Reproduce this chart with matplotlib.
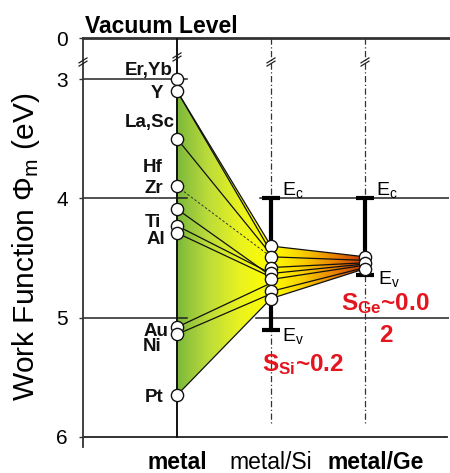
import numpy as np
import matplotlib
matplotlib.use("Agg")
import matplotlib.pyplot as plt
from matplotlib.colors import LinearSegmentedColormap
from matplotlib.patches import Polygon

plt.rcParams['font.family'] = ['Liberation Sans', 'DejaVu Sans']
plt.rcParams['mathtext.fontset'] = 'custom'
plt.rcParams['mathtext.rm'] = 'Liberation Sans'
plt.rcParams['mathtext.it'] = 'Liberation Sans:italic'
plt.rcParams['mathtext.bf'] = 'Liberation Sans:bold'

# ---------------- data ----------------
columns = ['metal', 'metal/Si', 'metal/Ge']
metal_names = ['Er,Yb', 'Y', 'La,Sc', 'Zr', 'Hf', 'Ti', 'Al', 'Au', 'Ni', 'Pt']
metal_wf = [3.00, 3.10, 3.50, 3.90, 4.09, 4.23, 4.29, 5.08, 5.14, 5.65]
si_pinned = [4.40, 4.49, 4.58, 4.63, 4.68, 4.78, 4.84]
ge_pinned = [4.49, 4.54, 4.59]
# metal -> Si connections
conn_metal = [3.10, 3.10, 3.50, 4.09, 4.23, 4.29, 5.08, 5.14, 5.65]
conn_si = [4.40, 4.45, 4.47, 4.65, 4.63, 4.66, 4.71, 4.80, 4.84]
dashed_metal, dashed_si = 3.90, 4.49
# Si -> Ge connections
conn_si_ge_from = [4.40, 4.49, 4.58, 4.63, 4.68, 4.78, 4.84]
conn_si_ge_to = [4.49, 4.52, 4.54, 4.55, 4.56, 4.58, 4.59]
si_ec, si_ev = 4.0, 5.10
ge_ec, ge_ev = 4.0, 4.64
ytick_vals = [0, 3, 4, 5, 6]
s_si_text = '0.2'
s_ge_text = '0.0'

# broken axis: 0 eV drawn just above 3 eV
Y0 = 2.656
def ymap(v):
    return Y0 if v == 0 else v

# pixel helpers for layout only
def px2x(px):
    return (px - 83) / 94.0
def px2y(py):
    return Y0 + (py - 38) / 119.3

fig = plt.figure(figsize=(4.5, 4.73), dpi=100)
ax = fig.add_axes([83 / 450, 1 - 447 / 473, (449 - 83) / 450, (447 - 38) / 473])
XMAX = (449 - 83) / 94.0
YMAX = px2y(447)

xm, xs, xg = 1, 2, 3

# gradient fills
cmap1 = LinearSegmentedColormap.from_list('g', ['#7cb83c', '#bcdc3a', '#eaf220', '#ffff00'])
cmap2 = LinearSegmentedColormap.from_list('o', ['#ffff00', '#f8d000', '#ea8400', '#c03408'])
grad = np.linspace(0, 1, 256).reshape(1, -1)

poly1 = Polygon([(xm, conn_metal[0]), (xs, si_pinned[0]), (xs, si_pinned[-1]), (xm, metal_wf[-1])],
                closed=True, facecolor='none', edgecolor='none')
ax.add_patch(poly1)
im1 = ax.imshow(grad, extent=(xm, xs, 6.1, 2.6), cmap=cmap1, aspect='auto', zorder=1)
im1.set_clip_path(poly1)

poly2 = Polygon([(xs, si_pinned[0]), (xg, ge_pinned[0]), (xg, ge_pinned[-1]), (xs, si_pinned[-1])],
                closed=True, facecolor='none', edgecolor='none')
ax.add_patch(poly2)
im2 = ax.imshow(grad, extent=(xs, xg, 6.1, 2.6), cmap=cmap2, aspect='auto', zorder=1)
im2.set_clip_path(poly2)

# horizontal reference lines
lc = '#222222'
ax.plot([0, XMAX], [Y0, Y0], color='#333333', lw=2.0, zorder=2, clip_on=False)
ax.plot([0, XMAX - 0.02], [6, 6], color=lc, lw=1.3, zorder=2, clip_on=False)
ax.plot([0, 1.11], [3, 3], color=lc, lw=1.1, zorder=2)
ax.plot([0, 1.11], [4, 4], color=lc, lw=1.1, zorder=2)
ax.plot([0, 1.11], [5, 5], color=lc, lw=1.1, zorder=2)
ax.plot([1.88, XMAX], [4, 4], color=lc, lw=1.1, zorder=2)
ax.plot([1.84, XMAX], [5, 5], color=lc, lw=1.1, zorder=2)

# vertical column lines
ax.plot([xm, xm], [Y0, 6], color='#111111', lw=1.4, zorder=2)
for xc in (xs, xg):
    ax.plot([xc, xc], [Y0, px2y(424)], color='#333333', lw=0.9,
            dashes=(5, 2, 1, 2), zorder=2)

# break marks
def brk(xc, yc):
    dx, dy = 4.5 / 94.0, 2.8 / 119.3
    for off in (-1.6 / 119.3, 1.6 / 119.3):
        ax.plot([xc - dx, xc + dx], [yc + dy + off, yc - dy + off], color='#222222',
                lw=0.9, zorder=6, clip_on=False, solid_capstyle='butt')
brk(0, px2y(62))
brk(xm, px2y(57))
brk(xs, px2y(62))
brk(xg, px2y(62))

# connecting lines
for a, b in zip(conn_metal, conn_si):
    ax.plot([xm, xs], [a, b], color='#111111', lw=0.9, zorder=3)
ax.plot([xm, xs], [dashed_metal, dashed_si], color='#333333', lw=0.7,
        dashes=(2.5, 2), zorder=3)
for a, b in zip(conn_si_ge_from, conn_si_ge_to):
    ax.plot([xs, xg], [a, b], color='#111111', lw=0.9, zorder=3)

# band bars
capw = 0.1
for xc, ec, ev in ((xs, si_ec, si_ev), (xg, ge_ec, ge_ev)):
    ax.plot([xc, xc], [ec, ev], color='black', lw=3.0, zorder=4, solid_capstyle='butt')
    ax.plot([xc - capw, xc + capw], [ec, ec], color='black', lw=3.0, zorder=4, solid_capstyle='butt')
    ax.plot([xc - capw, xc + capw], [ev, ev], color='black', lw=3.0, zorder=4, solid_capstyle='butt')

# circles
mk = dict(marker='o', ms=8.8, mfc='white', mec='#111111', mew=1.0, ls='none', zorder=5)
ax.plot([xm] * len(metal_wf), metal_wf, **mk)
ax.plot([xs] * len(si_pinned), si_pinned, **mk)
ax.plot([xg] * len(ge_pinned), ge_pinned, **mk)

# metal labels (right edge px, centre y px)
label_layout = [('Er,Yb', 173, 71), ('Y', 163, 93), ('La,Sc', 175, 122), ('Hf', 163, 167),
                ('Zr', 163, 188), ('Ti', 161, 222), ('Al', 165, 239), ('Au', 168, 331),
                ('Ni', 162, 347), ('Pt', 163, 397)]
for name, rx, cy in label_layout:
    ax.text(px2x(rx), px2y(cy), name, ha='right', va='center', fontsize=13.5,
            fontweight='bold', color='#111111', zorder=6)

# band edge labels
efs = 14
ax.text(px2x(282), px2y(195), r'$\mathregular{E_c}$', fontsize=efs, va='baseline', ha='left')
ax.text(px2x(376), px2y(195), r'$\mathregular{E_c}$', fontsize=efs, va='baseline', ha='left')
ax.text(px2x(282), px2y(341), r'$\mathregular{E_v}$', fontsize=efs, va='baseline', ha='left')
ax.text(px2x(378), px2y(284), r'$\mathregular{E_v}$', fontsize=efs, va='baseline', ha='left')

red = '#e3151e'
ax.text(px2x(262), px2y(371), r'$\mathregular{S_{Si}}$~' + s_si_text, fontsize=17.5,
        fontweight='bold', color=red, va='baseline', ha='left', zorder=7)
ax.text(px2x(341), px2y(310), r'$\mathregular{S_{Ge}}$~' + s_ge_text, fontsize=17.5,
        fontweight='bold', color=red, va='baseline', ha='left', zorder=7)
ax.text(px2x(386), px2y(342), '2', fontsize=17.5,
        fontweight='bold', color=red, va='baseline', ha='center', zorder=7)

# column labels
cfs = 16.5
ax.text(xm, px2y(469), columns[0], ha='center', va='baseline', fontsize=cfs,
        fontweight='bold', clip_on=False)
ax.text(xs, px2y(469), columns[1], ha='center', va='baseline', fontsize=cfs, clip_on=False)
ax.text(px2x(376), px2y(469), columns[2], ha='center', va='baseline', fontsize=cfs,
        fontweight='bold', clip_on=False)

# title
fig.text(85 / 450, 1 - 33 / 473, 'Vacuum Level', ha='left', va='baseline', fontsize=16.5,
         fontweight='bold')

# axes cosmetics
ax.set_xlim(0, XMAX)
ax.set_ylim(YMAX, Y0)
for s in ('top', 'right', 'bottom'):
    ax.spines[s].set_visible(False)
ax.spines['left'].set_linewidth(1.3)
ax.spines['left'].set_color('#333333')
ax.set_xticks([])
ax.set_yticks([ymap(v) for v in ytick_vals])
ax.set_yticklabels([str(v) for v in ytick_vals])
ax.tick_params(axis='y', direction='out', length=3, width=1.0, labelsize=15, pad=8,
               color='#333333')
ax.set_ylabel(r'Work Function $\mathregular{\Phi_m}$ (eV)', fontsize=21.5)
ax.yaxis.set_label_coords(-0.112, 0.49)

fig.savefig('out.png', dpi=100)
